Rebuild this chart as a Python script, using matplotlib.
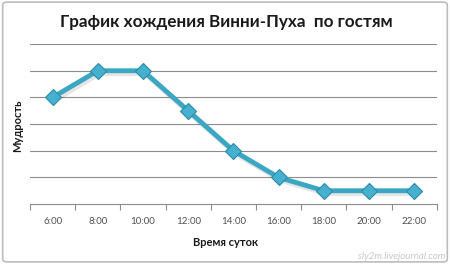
import matplotlib
matplotlib.use('Agg')
import matplotlib.pyplot as plt
from matplotlib.patches import FancyBboxPatch

# data
times = ['6:00', '8:00', '10:00', '12:00', '14:00', '16:00', '18:00', '20:00', '22:00']
wisdom = [4, 5, 5, 3.5, 2, 1, 0.5, 0.5, 0.5]

plt.rcParams['font.family'] = ['Lato', 'DejaVu Sans']

fig = plt.figure(figsize=(4.5, 2.64), dpi=100)
fig.patch.set_facecolor('white')

# outer chart frame
frame = FancyBboxPatch((0.006, 0.008), 0.988, 0.984, boxstyle='round,pad=0,rounding_size=0.01',
                       transform=fig.transFigure, fill=False, edgecolor='#bdbdbd', linewidth=1.2)
fig.add_artist(frame)

ax = fig.add_axes([0.0667, 0.227, 0.904, 0.606])
x = list(range(len(times)))

# shadow under the line
ax.plot([i + 0.04 for i in x], [v - 0.1 for v in wisdom], color='#000000', alpha=0.10,
        linewidth=3.8, solid_joinstyle='round', zorder=2)
ax.plot(x, wisdom, color='#3ca7c3', linewidth=3.5, solid_joinstyle='round', zorder=3,
        marker='D', markersize=8, markerfacecolor='#45b0cf', markeredgecolor='#2c8aa5',
        markeredgewidth=0.8)

ax.set_xlim(-0.5, len(times) - 0.5)
ax.set_ylim(0, 6)
ax.set_yticks([1, 2, 3, 4, 5, 6])
ax.yaxis.grid(True, color='#8c8c8c', linewidth=0.8)
ax.set_axisbelow(True)
ax.tick_params(axis='y', length=0, labelleft=False)

ax.set_xticks(x)
ax.set_xticklabels(times, fontsize=7, color='#505050')
ax.set_xticks([i - 0.5 for i in range(len(times) + 1)], minor=True)
ax.tick_params(axis='x', which='major', length=0, pad=9)
ax.tick_params(axis='x', which='minor', length=4, color='#8c8c8c', width=0.8)

for s in ['top', 'right', 'left']:
    ax.spines[s].set_visible(False)
ax.spines['bottom'].set_color('#8c8c8c')
ax.spines['bottom'].set_linewidth(0.8)

fig.text(0.502, 0.915, 'График хождения Винни-Пуха  по гостям', ha='center', va='center',
         fontsize=12.3, fontweight='bold', color='#1a1a1a')
fig.text(0.502, 0.083, 'Время суток', ha='center', va='center', fontsize=8,
         fontweight='bold', color='#1a1a1a')
fig.text(0.04, 0.525, 'Мудрость', ha='center', va='center', rotation=90, fontsize=8,
         fontweight='bold', color='#1a1a1a')
fig.text(0.99, 0.027, 'sly2m.livejournal.com', ha='right', va='center', fontsize=7,
         style='italic', color='#c8c8c8')

fig.savefig('out.png', dpi=100)
